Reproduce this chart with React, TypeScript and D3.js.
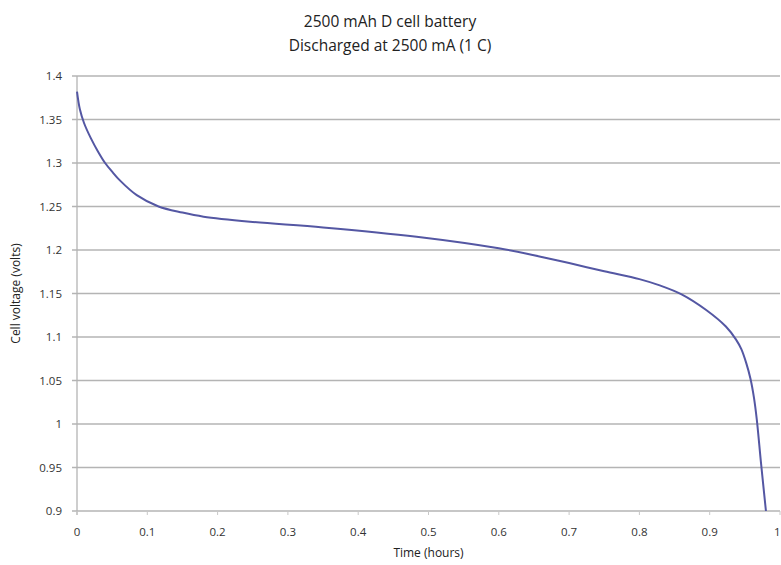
import React from "react";
import * as d3 from "d3";

const titleLines = ["2500 mAh D cell battery", "Discharged at 2500 mA (1 C)"];
const xAxisTitle = "Time (hours)";
const yAxisTitle = "Cell voltage (volts)";
const xTicks = [0, 0.1, 0.2, 0.3, 0.4, 0.5, 0.6, 0.7, 0.8, 0.9, 1];
const yTicks = [0.9, 0.95, 1, 1.05, 1.1, 1.15, 1.2, 1.25, 1.3, 1.35, 1.4];

const timeHours = [0, 0.004, 0.01, 0.02, 0.03, 0.04, 0.05, 0.061, 0.085, 0.116, 0.15, 0.18, 0.246, 0.35, 0.483, 0.6, 0.65, 0.7, 0.75, 0.8, 0.83, 0.86, 0.895, 0.923, 0.9375, 0.945, 0.952, 0.958, 0.963, 0.967, 0.973, 0.98];
const voltage = [1.382, 1.362, 1.346, 1.328, 1.313, 1.3, 1.29, 1.28, 1.263, 1.25, 1.243, 1.2383, 1.2325, 1.226, 1.2153, 1.202, 1.194, 1.185, 1.1755, 1.1665, 1.159, 1.149, 1.131, 1.112, 1.097, 1.086, 1.07, 1.052, 1.03, 1.005, 0.955, 0.9];

const W = 781;
const H = 565;
const left = 77;
const right = 780;
const top = 76;
const bottom = 511;

export default function App() {
  const x = d3.scaleLinear().domain([0, 1]).range([left, right]);
  const y = d3.scaleLinear().domain([0.9, 1.4]).range([bottom, top]);
  const pts: [number, number][] = timeHours.map((t, i) => [t, voltage[i]]);
  const line = d3
    .line<[number, number]>()
    .x((d) => x(d[0]))
    .y((d) => y(d[1]))
    .curve(d3.curveCatmullRom.alpha(0.5));
  const font = "'Open Sans', 'Noto Sans', sans-serif";
  const fmt = (v: number) => String(+v.toFixed(2));
  return (
    <svg
      width={W}
      height={H}
      style={{ position: "absolute", left: 0, top: 0, background: "#fff" }}
      fontFamily={font}
    >
      <rect x={0} y={0} width={W} height={H} fill="#fff" />
      {titleLines.map((t, i) => (
        <text key={t} x={390} y={27 + i * 24} textAnchor="middle" fontSize={15.5} fill="#222">
          {t}
        </text>
      ))}
      {yTicks.map((v) => (
        <g key={"y" + v}>
          <line x1={left - 5} x2={right} y1={y(v)} y2={y(v)} stroke="#b4b4b4" strokeWidth={1.3} />
          <text x={62} y={y(v) + 4} textAnchor="end" fontSize={11.5} fill="#333">
            {fmt(v)}
          </text>
        </g>
      ))}
      <line x1={left} x2={left} y1={top} y2={bottom + 4} stroke="#b4b4b4" strokeWidth={1.3} />
      {xTicks.map((v, i) => (
        <g key={"x" + v}>
          <line x1={x(v)} x2={x(v)} y1={bottom} y2={bottom + 4} stroke="#c8c8c8" strokeWidth={1} />
          <text
            x={i === xTicks.length - 1 ? W - 0.5 : x(v)}
            y={536}
            textAnchor={i === xTicks.length - 1 ? "end" : "middle"}
            fontSize={11.5}
            fill="#333"
          >
            {fmt(v)}
          </text>
        </g>
      ))}
      <text x={(left + right) / 2} y={557} textAnchor="middle" fontSize={12} fill="#222">
        {xAxisTitle}
      </text>
      <text
        transform={`translate(20, ${(top + bottom) / 2}) rotate(-90)`}
        textAnchor="middle"
        fontSize={12}
        fill="#222"
      >
        {yAxisTitle}
      </text>
      <path d={line(pts) || ""} fill="none" stroke="#5457a3" strokeWidth={2} />
    </svg>
  );
}
